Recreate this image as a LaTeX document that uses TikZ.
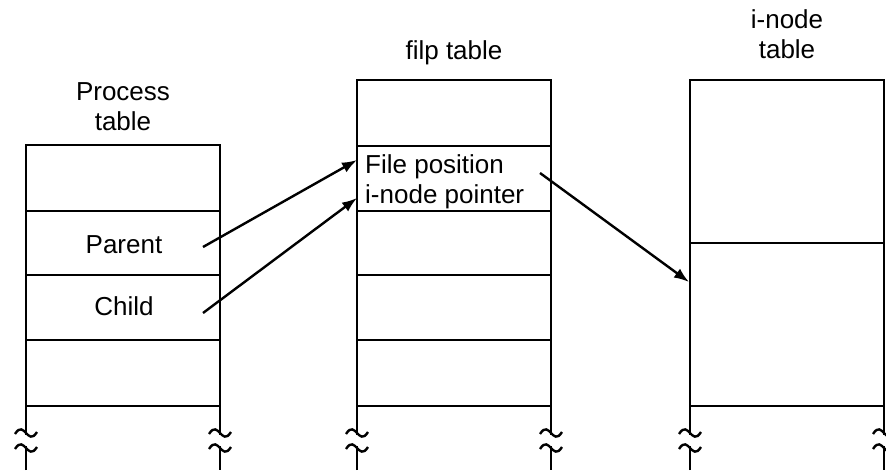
\documentclass[tikz,border=0pt]{standalone}
\usepackage{fontspec}
\setmainfont{Liberation Sans}
\usetikzlibrary{arrows.meta}

% break mark across a vertical line
\newcommand{\breakmark}[2]{%
  \draw (#1-11,#2+1) .. controls (#1-6,#2-7) and (#1-3,#2-3) .. (#1,#2)
        .. controls (#1+3,#2+3) and (#1+6,#2+7) .. (#1+11,#2-1);}

\begin{document}
\begin{tikzpicture}[
		x=0.5pt, y=-0.5pt,
		line width=1.2pt,
		every node/.style={font=\fontsize{13pt}{15pt}\selectfont, inner sep=0pt},
		ptr/.style={-{Latex[length=7.5pt,width=5.5pt]}}
		]
		\useasboundingbox (0,0) rectangle (886,470);

		% Process table
		\draw (26,470) -- (26,145) -- (220,145) -- (220,470);
		\foreach \y in {211,275,340,406} \draw (26,\y) -- (220,\y);
		% filp table
		\draw (357,470) -- (357,80) -- (551,80) -- (551,470);
		\foreach \y in {146,211,275,340,406} \draw (357,\y) -- (551,\y);
		% i-node table
		\draw (690,470) -- (690,80) -- (884,80) -- (884,470);
		\foreach \y in {243,406} \draw (690,\y) -- (884,\y);

		% breaks
		\foreach \x in {26,220,357,551,690,884} {
			\fill[white] (\x-2,435) rectangle (\x+2,446);
			\breakmark{\x}{433}
			\breakmark{\x}{448}
		}

		% titles
		\node[anchor=south, align=center] (proctitle) at (123,132) {Process\\table};
		\node[anchor=base] (filptitle) at (454,60) {filp table};
		\node[anchor=south, align=center] (inodetitle) at (787,60) {i-node\\table};

		% entries
		\node[anchor=base] (parent) at (124,253) {Parent};
		\node[anchor=base] (child) at (124,315) {Child};
		\node[anchor=base west] (filepos) at (364,173) {File position};
		\node[anchor=base west] (inodeptr) at (364,203) {i-node pointer};

		\coordinate (parentout) at (203,247);
		\coordinate (childout) at (203,313);
		\coordinate (fileposin) at (357,160);
		\coordinate (inodeptrin) at (357,198);
		\coordinate (inodeptrout) at (540,173);
		\coordinate (inodein) at (689,282);

		\draw[ptr] (parentout) -- (fileposin);
		\draw[ptr] (childout) -- (inodeptrin);
		\draw[ptr] (inodeptrout) -- (inodein);
	\end{tikzpicture}
\end{document}
